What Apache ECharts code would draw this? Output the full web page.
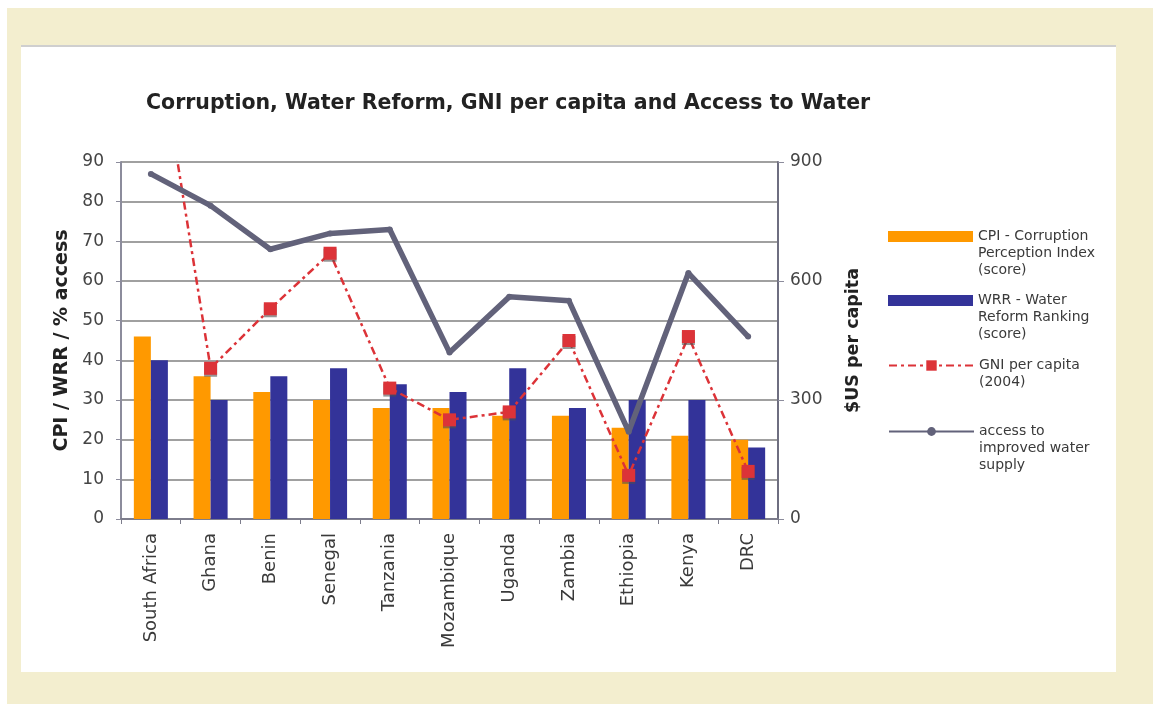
<!DOCTYPE html>
<html>
<head>
<meta charset="utf-8">
<script src="https://cdn.jsdelivr.net/npm/echarts@6/dist/echarts.min.js"></script>
<style>
  html, body { margin: 0; padding: 0; background: #fff; }
  #frame { position: absolute; left: 7px; top: 8px; width: 1146px; height: 696px; background: #f3eecf; }
  #panel { position: absolute; left: 21px; top: 45px; width: 1095px; height: 627px; background: #fff; border-top: 2px solid #cfcfcf; box-sizing: border-box; }
  #chart { position: absolute; left: 0; top: 0; width: 1153px; height: 704px; }
</style>
</head>
<body>
<div id="frame"></div>
<div id="panel"></div>
<div id="chart"></div>
<script>
// categories and values
const countries = ['South Africa', 'Ghana', 'Benin', 'Senegal', 'Tanzania', 'Mozambique',
  'Uganda', 'Zambia', 'Ethiopia', 'Kenya', 'DRC'];
const cpiScore = [46, 36, 32, 30, 28, 28, 26, 26, 23, 21, 20];
const wrrScore = [40, 30, 36, 38, 34, 32, 38, 28, 30, 30, 18];
const gniPerCapita = [1320, 380, 530, 670, 330, 250, 270, 450, 110, 460, 120];
const waterAccess = [87, 79, 68, 72, 73, 42, 56, 55, 22, 62, 46];

const leftTicks = { min: 0, max: 90, interval: 10 };
const rightTicks = { min: 0, max: 900, interval: 300 };

const font = 'DejaVu Sans, Verdana, sans-serif';
const textColor = '#3a3a3a';
const gridColor = '#a0a0a0';

const names = {
  cpi: 'CPI - Corruption\nPerception Index\n(score)',
  wrr: 'WRR - Water\nReform Ranking\n(score)',
  gni: 'GNI per capita\n(2004)',
  access: 'access to\nimproved water\nsupply'
};

const chart = echarts.init(document.getElementById('chart'));

// one legend per entry so each can sit where the reference puts it.
// legend text is centred on the icon, so blank lines are put in front
// to bring the first real line level with the icon
const legendItem = (name, top, icon, h) => ({
  data: icon ? [{ name: name, icon: icon }] : [name],
  orient: 'vertical',
  left: 888,
  top: top,
  padding: 0,
  itemWidth: 85,
  itemHeight: h,
  itemGap: 0,
  selectedMode: false,
  formatter: (n) => {
    const lines = n.split('\n').length;
    return '\n'.repeat(lines - 1) + n;
  },
  textStyle: {
    fontFamily: font,
    fontSize: 14,
    color: textColor,
    lineHeight: 17
  }
});

const option = {
  backgroundColor: 'transparent',
  animation: false,
  title: {
    text: 'Corruption, Water Reform, GNI per capita and Access to Water',
    left: 141,
    top: 88,
    textStyle: { fontFamily: font, fontSize: 20.5, fontWeight: 'bold', color: '#222' }
  },
  legend: [
    legendItem(names.cpi, 194, 'rect', 11),
    legendItem(names.wrr, 258, 'rect', 11),
    legendItem(names.gni, 340, null, 13),
    legendItem(names.access, 389, null, 11)
  ],
  grid: { left: 121, right: 375, top: 162, bottom: 185, containLabel: false },
  xAxis: {
    type: 'category',
    data: countries,
    boundaryGap: true,
    axisLine: { lineStyle: { color: '#7d7d8c', width: 2 } },
    axisTick: { show: true, length: 5, lineStyle: { color: '#7d7d8c' } },
    axisLabel: {
      rotate: 90,
      interval: 0,
      margin: 14,
      fontFamily: font,
      fontSize: 18,
      color: textColor
    }
  },
  yAxis: [
    {
      type: 'value',
      min: leftTicks.min,
      max: leftTicks.max,
      interval: leftTicks.interval,
      name: 'CPI / WRR / % access',
      nameLocation: 'middle',
      nameRotate: 90,
      nameGap: 49,
      nameTextStyle: { fontFamily: font, fontSize: 19, fontWeight: 'bold', color: '#222' },
      axisLine: { show: true, lineStyle: { color: '#8c8c9c', width: 2 } },
      axisTick: { show: true, length: 5, lineStyle: { color: '#8c8c9c' } },
      axisLabel: { fontFamily: font, fontSize: 17, color: '#444', margin: 17 },
      splitLine: { show: true, lineStyle: { color: gridColor, width: 2 } }
    },
    {
      type: 'value',
      position: 'right',
      min: rightTicks.min,
      max: rightTicks.max,
      interval: rightTicks.interval,
      name: '$US per capita',
      nameLocation: 'middle',
      nameRotate: 90,
      nameGap: 66,
      nameTextStyle: { fontFamily: font, fontSize: 17.5, fontWeight: 'bold', color: '#222' },
      axisLine: { show: true, lineStyle: { color: '#6e6e80', width: 2 } },
      axisTick: { show: true, length: 6, lineStyle: { color: '#8c8c9c' } },
      axisLabel: { fontFamily: font, fontSize: 17, color: '#444', margin: 12 },
      splitLine: { show: false }
    }
  ],
  series: [
    {
      name: names.cpi,
      type: 'bar',
      data: cpiScore,
      barGap: 0,
      barCategoryGap: '43%',
      itemStyle: { color: '#ff9900' }
    },
    {
      name: names.wrr,
      type: 'bar',
      data: wrrScore,
      itemStyle: { color: '#333399' }
    },
    {
      name: names.gni,
      type: 'line',
      yAxisIndex: 1,
      data: gniPerCapita,
      symbol: 'rect',
      symbolSize: 13,
      itemStyle: { color: '#dc3338', shadowColor: 'rgba(80,80,80,0.6)', shadowOffsetY: 2 },
      lineStyle: { color: '#dc3338', width: 2.5, type: [8, 4, 3, 4] },
      z: 3
    },
    {
      name: names.access,
      type: 'line',
      data: waterAccess,
      symbol: 'circle',
      symbolSize: 6,
      itemStyle: { color: '#62627a' },
      lineStyle: { color: '#62627a', width: 5.5 },
      z: 4
    }
  ]
};

chart.setOption(option);
</script>
</body>
</html>
